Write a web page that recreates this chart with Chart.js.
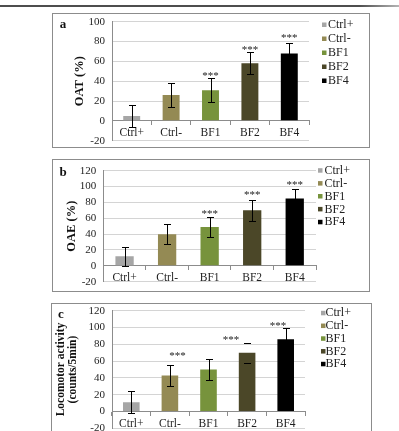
<!DOCTYPE html>
<html>
<head>
<meta charset="utf-8">
<script src="https://cdn.jsdelivr.net/npm/chart.js@4.4.1/dist/chart.umd.min.js"></script>
<style>
  html, body { margin: 0; padding: 0; width: 399px; height: 431px; overflow: hidden; background: #fff; }
  .rule { position: absolute; left: 0; top: 5px; width: 399px; height: 2px;
          background: linear-gradient(to right, #4d4d4d 0%, #4d4d4d 90%, #b5b5b5 100%); }
  .box { position: absolute; border: 1px solid #8c8c8c; box-sizing: border-box; }
  .wrap { position: absolute; }
</style>
</head>
<body>
<div class="rule"></div>
<div class="box" style="left:52px;top:13px;width:318px;height:135px"></div>
<div class="box" style="left:52px;top:159px;width:318px;height:133px"></div>
<div class="box" style="left:51px;top:303px;width:321px;height:150px"></div>
<div class="wrap" style="left:53px;top:10px;width:315px;height:140px"><canvas id="chartA"></canvas></div>
<div class="wrap" style="left:53px;top:160px;width:315px;height:131px"><canvas id="chartB"></canvas></div>
<div class="wrap" style="left:52px;top:304px;width:318px;height:133px"><canvas id="chartC"></canvas></div>

<script>
// groups
const categories = ['Ctrl+', 'Ctrl-', 'BF1', 'BF2', 'BF4'];

// panel a: OAT (%)
const oatMean = [5, 26, 31, 58, 68];
const oatSd = [11, 12, 12, 11, 11];
const oatStarX = [2, 3, 4];
const oatStarY = [47, 73, 86];
const oatRange = [-20, 100];

// panel b: OAE (%)
const oaeMean = [12, 40, 49, 70, 85];
const oaeSd = [12, 13, 12, 13, 12];
const oaeStarX = [2, 3, 4];
const oaeStarY = [68, 92, 105];
const oaeRange = [-20, 120];

// panel c: locomotor activity (counts/5min)
const locoMean = [11, 43, 50, 70, 86];
const locoSd = [13, 12, 13, 12, 13];
const locoStarX = [1.2, 2.58, 3.8];
const locoStarY = [68, 88, 104];
const locoRange = [-20, 120];

const tickStep = 20;
const barColors = ['#a6a6a6', '#948a54', '#77933c', '#4b4728', '#000000'];
const serif = '"Liberation Serif", "Times New Roman", serif';

// error bars, stars, legend and panel letter
const extrasPlugin = {
  id: 'extras',
  afterDatasetsDraw(chart, args, opts) {
    const ctx = chart.ctx;
    const xs = chart.scales.x, ys = chart.scales.y;
    const meta = chart.getDatasetMeta(0);
    const values = chart.data.datasets[0].data;
    ctx.save();
    ctx.strokeStyle = '#000';
    ctx.lineWidth = 1;
    meta.data.forEach((bar, i) => {
      const px = Math.round(bar.x) + 0.5;
      const top = Math.round(ys.getPixelForValue(values[i] + opts.sd[i])) + 0.5;
      const bot = Math.round(ys.getPixelForValue(values[i] - opts.sd[i])) + 0.5;
      ctx.beginPath();
      if (opts.capsOnly !== i) {
        ctx.moveTo(px, top);
        ctx.lineTo(px, bot);
      }
      ctx.moveTo(px - 3.5, top); ctx.lineTo(px + 3.5, top);
      ctx.moveTo(px - 3.5, bot); ctx.lineTo(px + 3.5, bot);
      ctx.stroke();
    });

    ctx.fillStyle = '#222';
    ctx.font = '11px ' + serif;
    ctx.textAlign = 'center';
    ctx.textBaseline = 'alphabetic';
    opts.starX.forEach((sx, k) => {
      ctx.fillText('***', xs.getPixelForValue(sx), ys.getPixelForValue(opts.starY[k]) + 5);
    });

    // legend
    const lg = opts.legend;
    ctx.font = '12px ' + serif;
    ctx.textAlign = 'left';
    ctx.textBaseline = 'middle';
    chart.data.labels.forEach((lab, i) => {
      const yy = lg.y + i * lg.dy;
      ctx.fillStyle = barColors[i];
      ctx.fillRect(lg.x, yy - 2.5, 4.5, 4.5);
      ctx.fillStyle = '#222';
      ctx.fillText(lab, lg.x + lg.gap, yy);
    });

    // panel letter
    ctx.font = 'bold 13px ' + serif;
    ctx.fillStyle = '#111';
    ctx.textAlign = 'center';
    ctx.fillText(opts.letter.text, opts.letter.x, opts.letter.y);
    ctx.restore();
  }
};

function makePanel(id, p) {
  const ctx = document.getElementById(id).getContext('2d');
  return new Chart(ctx, {
    type: 'bar',
    data: {
      labels: categories,
      datasets: [{
        data: p.mean,
        backgroundColor: barColors,
        borderWidth: 0,
        barPercentage: 0.43,
        categoryPercentage: 1.0
      }]
    },
    options: {
      responsive: true,
      maintainAspectRatio: false,
      animation: false,
      layout: { padding: p.padding },
      plugins: {
        legend: { display: false },
        tooltip: { enabled: false },
        extras: {
          sd: p.sd, starX: p.starX, starY: p.starY,
          capsOnly: p.capsOnly, legend: p.legend, letter: p.letter
        }
      },
      scales: {
        x: {
          position: { y: 0 },
          grid: { drawOnChartArea: false, drawTicks: true, tickLength: 4, color: '#8c8c8c', offset: true },
          border: { display: true, color: '#8c8c8c' },
          ticks: { color: '#1e1e1e', padding: 1, font: { family: serif, size: 11.5 } }
        },
        y: {
          min: p.range[0],
          max: p.range[1],
          afterFit: (scale) => {
            // fixed axis width, no label overflow padding
            scale.width = p.yWidth;
            scale.paddingTop = 0;
            scale.paddingBottom = 0;
          },
          grid: { color: '#d4d4d4', drawTicks: false },
          border: { display: true, color: '#8c8c8c' },
          ticks: { stepSize: tickStep, autoSkip: false, color: '#1e1e1e', padding: 7, font: { family: serif, size: 11 } },
          title: {
            display: true,
            text: p.title,
            color: '#111',
            font: { family: serif, size: p.titleSize, weight: 'bold', lineHeight: 1.05 },
            padding: { top: p.titlePad, bottom: 0 }
          }
        }
      }
    },
    plugins: [extrasPlugin]
  });
}

makePanel('chartA', {
  mean: oatMean, sd: oatSd, starX: oatStarX, starY: oatStarY, range: oatRange,
  padding: { left: 0, top: 11.7, right: 59, bottom: 9.3 },
  yWidth: 59, title: 'OAT (%)', titleSize: 12.5, titlePad: 20.5,
  legend: { x: 269, y: 15, dy: 14, gap: 6 },
  letter: { text: 'a', x: 10, y: 15 }
});

makePanel('chartB', {
  mean: oaeMean, sd: oaeSd, starX: oaeStarX, starY: oaeStarY, range: oaeRange,
  padding: { left: 0, top: 10.7, right: 52, bottom: 9.3 },
  yWidth: 50.3, title: 'OAE (%)', titleSize: 12.5, titlePad: 12.2,
  legend: { x: 265, y: 10.7, dy: 12.9, gap: 6.5 },
  letter: { text: 'b', x: 10, y: 13 }
});

makePanel('chartC', {
  mean: locoMean, sd: locoSd, starX: locoStarX, starY: locoStarY, range: locoRange,
  capsOnly: 3,
  padding: { left: 0, top: 6.7, right: 65, bottom: 8.6 },
  yWidth: 60, title: ['Locomotor activity', '(counts/5min)'], titleSize: 11.5, titlePad: 3,
  legend: { x: 269, y: 9.3, dy: 12.75, gap: 4.5 },
  letter: { text: 'c', x: 9, y: 11 }
});
</script>
</body>
</html>
